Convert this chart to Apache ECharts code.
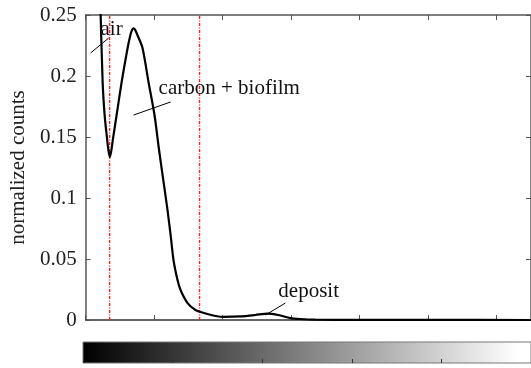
<!DOCTYPE html>
<html>
<head>
<meta charset="utf-8">
<script src="https://cdn.jsdelivr.net/npm/echarts@6/dist/echarts.min.js"></script>
<style>
html, body { margin: 0; padding: 0; background: #fff; }
#chart { width: 531px; height: 368px; }
</style>
</head>
<body>
<div id="chart"></div>
<script>
// gray level vs normalized counts
var grayLevel = [6.5, 7.6, 8.75, 9.91, 11.08, 12.4, 13.3, 14.1, 14.9, 15.9, 18.08, 21.0, 24.5, 26.2, 27.1, 28.0, 28.9, 30.1, 33.2, 36.7,
    40.2, 42.7, 45.5, 47.8, 49.6, 51.3, 53.6, 55.4, 59.5, 64.1, 67.1, 71.1, 75.8, 80.5,
    90.4, 99.1, 106.1, 112.5, 119.5, 125.4, 134, 160, 200, 260];
var counts = [0.35, 0.30, 0.25, 0.195, 0.168, 0.150, 0.139, 0.1336, 0.138, 0.148, 0.168, 0.195, 0.223, 0.234, 0.2378, 0.239, 0.2378, 0.234, 0.223, 0.195,
    0.168, 0.141, 0.113, 0.090, 0.0697, 0.049, 0.033, 0.0246, 0.0139, 0.0082, 0.0066, 0.0049, 0.0033, 0.0025,
    0.0029, 0.0041, 0.0053, 0.0041, 0.0016, 0.0008, 0.0003, 0.0001, 0.00005, 0];
var thresholds = [14, 66.5];
var yTicks = [0, 0.05, 0.1, 0.15, 0.2, 0.25];

var labels = [
    { name: 'air', at: [8.7, 0.2385], line: [[2.9, 0.2189], [13.4, 0.2311]] },
    { name: 'carbon + biofilm', at: [42.6, 0.190], line: [[28.0, 0.168], [49.6, 0.1787]] },
    { name: 'deposit', at: [112.5, 0.023], line: [[116.6, 0.0139], [105, 0.0041]] }
];

var points = grayLevel.map(function (g, i) { return [g, counts[i]]; });
var serif = 'Liberation Serif';
var axisColor = '#555';

var thresholdSeries = thresholds.map(function (t) {
    return {
        type: 'line',
        xAxisIndex: 0, yAxisIndex: 0,
        data: [[t, 0], [t, 0.25]],
        symbol: 'none',
        silent: true,
        lineStyle: { color: '#ff2020', width: 1.4, type: [3, 1.5, 1, 1.5] },
        itemStyle: { color: '#ff2020' },
        z: 2
    };
});

var chart = echarts.init(document.getElementById('chart'));
chart.setOption({
    animation: false,
    grid: [
        { left: 85, right: -1, top: 15, bottom: 48 },
        {
            left: 83, right: -2, top: 342, height: 21, show: true,
            backgroundColor: new echarts.graphic.LinearGradient(0, 0, 1, 0, [
                { offset: 0, color: '#000' },
                { offset: 0.97, color: '#fff' },
                { offset: 1, color: '#fff' }
            ]),
            borderColor: '#777', borderWidth: 1
        }
    ],
    xAxis: [
        {
            gridIndex: 0, type: 'value', min: 0, max: 260, interval: 40,
            axisLine: { show: true, lineStyle: { color: '#333', width: 1.5 } },
            axisTick: { show: true, inside: true, length: 5, lineStyle: { color: axisColor } },
            axisLabel: { show: false },
            splitLine: { show: false }
        },
        {
            gridIndex: 0, type: 'value', position: 'top', min: 0, max: 260, interval: 40,
            axisLine: { show: true, onZero: false, lineStyle: { color: axisColor, width: 1.5 } },
            axisTick: { show: true, inside: true, length: 5, lineStyle: { color: axisColor } },
            axisLabel: { show: false },
            splitLine: { show: false }
        },
        {
            gridIndex: 1, type: 'value', min: 0, max: 5, interval: 1,
            axisLine: { show: false },
            axisTick: { show: true, inside: true, length: 4, lineStyle: { color: '#333' } },
            axisLabel: { show: false },
            splitLine: { show: false }
        }
    ],
    yAxis: [
        {
            gridIndex: 0, type: 'value', min: 0, max: 0.25, interval: 0.05,
            name: 'normalized counts', nameLocation: 'middle', nameGap: 54,
            nameTextStyle: { fontFamily: serif, fontSize: 21, color: '#222' },
            axisLine: { show: true, lineStyle: { color: axisColor, width: 1.5 } },
            axisTick: { show: true, inside: true, length: 5, lineStyle: { color: axisColor } },
            axisLabel: {
                fontFamily: serif, fontSize: 21, color: '#222', margin: 9,
                formatter: function (v) {
                    var hit = yTicks.filter(function (t) { return Math.abs(t - v) < 1e-9; });
                    return hit.length ? String(hit[0]) : '';
                }
            },
            splitLine: { show: false }
        },
        {
            gridIndex: 0, type: 'value', position: 'right', min: 0, max: 0.25, interval: 0.05,
            axisLine: { show: true, onZero: false, lineStyle: { color: axisColor, width: 1.5 } },
            axisTick: { show: true, inside: true, length: 5, lineStyle: { color: axisColor } },
            axisLabel: { show: false },
            splitLine: { show: false }
        },
        {
            gridIndex: 1, type: 'value', min: 0, max: 1,
            axisLine: { show: false }, axisTick: { show: false },
            axisLabel: { show: false }, splitLine: { show: false }
        }
    ],
    series: [
        {
            type: 'line',
            xAxisIndex: 0, yAxisIndex: 0,
            data: points,
            smooth: 0.25,
            symbol: 'none',
            clip: true,
            lineStyle: { color: '#000', width: 2.2 },
            z: 3
        },
        {
            type: 'line',
            xAxisIndex: 0, yAxisIndex: 0,
            data: [],
            color: '#000',
            markLine: {
                silent: true,
                symbol: 'none',
                label: { show: false },
                lineStyle: { color: '#000', width: 1, type: 'solid' },
                data: labels.map(function (l) {
                    return [{ coord: l.line[0] }, { coord: l.line[1] }];
                })
            },
            markPoint: {
                silent: true,
                symbol: 'circle',
                symbolSize: 0,
                label: {
                    show: true, position: 'right', distance: 0,
                    fontFamily: serif, fontSize: 21, color: '#111',
                    formatter: function (p) { return p.name; }
                },
                data: labels.map(function (l) {
                    return { name: l.name, coord: l.at };
                })
            }
        }
    ].concat(thresholdSeries)
});
</script>
</body>
</html>
